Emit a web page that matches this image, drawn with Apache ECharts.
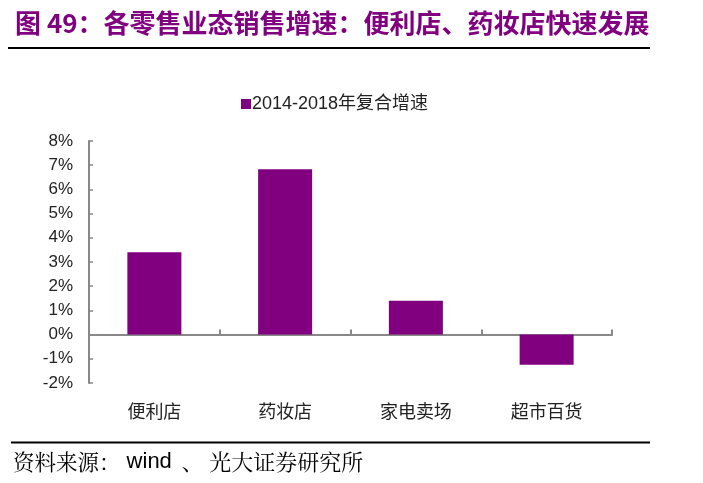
<!DOCTYPE html>
<html>
<head>
<meta charset="utf-8">
<script src="https://cdn.jsdelivr.net/npm/echarts@6/dist/echarts.min.js"></script>
<style>
html,body{margin:0;padding:0;background:#fff;}
#main{width:703px;height:483px;}
</style>
</head>
<body>
<div id="main"></div>
<script>
var titleText = '图 49：各零售业态销售增速：便利店、药妆店快速发展';
var sourceParts = ['资料来源：', ' wind', '、', '光大证券研究所'];
var seriesName = '2014-2018年复合增速';
var categories = ['便利店', '药妆店', '家电卖场', '超市百货'];
var values = [3.4, 6.83, 1.4, -1.25];
var yMin = -2, yMax = 8, yInterval = 1;

var serifCJK = '"Noto Serif CJK SC", "Noto Sans CJK SC", serif';
var chart = echarts.init(document.getElementById('main'), null, {renderer: 'canvas'});
chart.setOption({
  animation: false,
  backgroundColor: '#fff',
  title: {
    text: titleText,
    left: 10,
    top: 5,
    textStyle: {
      color: '#800080',
      fontSize: 26,
      fontWeight: 'bold',
      fontFamily: '"Noto Sans CJK SC", sans-serif'
    }
  },
  graphic: [
    {type: 'line', shape: {x1: 8, y1: 48, x2: 650, y2: 48}, style: {stroke: '#000', lineWidth: 2}},
    {type: 'line', shape: {x1: 11, y1: 442.5, x2: 650, y2: 442.5}, style: {stroke: '#000', lineWidth: 2}},
    {type: 'text', left: 13, top: 451, style: {
      text: '{c|' + sourceParts[0] + '}{w|' + sourceParts[1] + '}{s|' + sourceParts[2] + '}{d|' + sourceParts[3] + '}',
      rich: {
        c: {fill: '#000', fontSize: 21.5, fontFamily: serifCJK},
        s: {fill: '#000', fontSize: 21.5, fontFamily: serifCJK, padding: [0, 6, 0, 10]},
        d: {fill: '#000', fontSize: 22, fontFamily: serifCJK},
        w: {fill: '#000', fontSize: 22, fontFamily: 'Arial, "Liberation Sans", sans-serif'}
      }
    }}
  ],
  legend: {
    data: [seriesName],
    top: 90,
    left: 236,
    itemWidth: 10,
    itemHeight: 10,
    itemGap: 2,
    icon: 'rect',
    textStyle: {color: '#222', fontSize: 18, fontFamily: 'Arial, "Liberation Sans", "Noto Sans CJK SC", sans-serif', padding: [0, 0, 0, -4]}
  },
  grid: {left: 89, right: 91, top: 141, bottom: 100, containLabel: false},
  xAxis: {
    type: 'category',
    data: categories,
    axisLine: {show: true, onZero: true, lineStyle: {color: '#888', width: 2}},
    axisTick: {show: true, inside: true, length: 5, lineStyle: {color: '#888', width: 2}},
    axisLabel: {
      color: '#222',
      fontSize: 18,
      fontFamily: '"Noto Sans CJK SC", sans-serif',
      margin: 19
    }
  },
  yAxis: {
    type: 'value',
    min: yMin,
    max: yMax,
    interval: yInterval,
    splitLine: {show: false},
    axisLine: {show: true, lineStyle: {color: '#888', width: 2}},
    axisTick: {show: true, inside: true, length: 4, lineStyle: {color: '#888', width: 1.5}},
    axisLabel: {
      formatter: '{value}%',
      color: '#222',
      fontSize: 17,
      margin: 16,
      fontFamily: 'Arial, "Liberation Sans", sans-serif'
    }
  },
  series: [{
    name: seriesName,
    type: 'bar',
    data: values,
    barWidth: 54,
    itemStyle: {color: '#800080'}
  }]
});
</script>
</body>
</html>
